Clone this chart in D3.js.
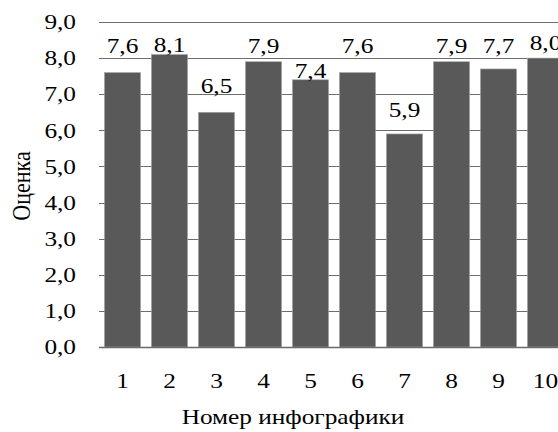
<!DOCTYPE html>
<html><head><meta charset="utf-8">
<script src="https://cdn.jsdelivr.net/npm/d3@7"></script>
<style>
html,body{margin:0;padding:0;background:#fff;}
svg{display:block;}
text{font-family:"Liberation Serif","Times New Roman",serif;fill:#000;}
</style></head>
<body>
<svg id="chart" width="558" height="432"></svg>
<script>
// ---- data ----
const categories = ["1","2","3","4","5","6","7","8","9","10"];
const scores = [7.6, 8.1, 6.5, 7.9, 7.4, 7.6, 5.9, 7.9, 7.7, 8.0];
const yTicks = [0,1,2,3,4,5,6,7,8,9];
const yTitle = "Оценка";
const xTitle = "Номер инфографики";
// label baseline positions, in value units (labels were placed by hand in the original)
const labelAt = [8.14, 8.17, 7.04, 8.14, 7.45, 8.14, 6.37, 8.14, 8.14, 8.23];

// ---- layout ----
const plotL = 99, plotR = 569, plotT = 22, plotB = 347;
const sx = 1.15; // horizontal glyph stretch seen in the original
const fs = 22;

const svg = d3.select("#chart");
const x = d3.scaleBand().domain(categories).range([plotL, plotR]).paddingInner(0.23).paddingOuter(0.115);
const y = d3.scaleLinear().domain([0, 9]).range([plotB, plotT]);
const fmt = v => d3.format(".1f")(v).replace(".", ",");

// gridlines
svg.append("g").selectAll("line").data(yTicks.filter(t => t > 0)).join("line")
  .attr("x1", plotL).attr("x2", 558)
  .attr("y1", d => Math.round(y(d)) + 0.5).attr("y2", d => Math.round(y(d)) + 0.5)
  .attr("stroke", "#6e6e6e").attr("stroke-width", 1.2);

// bars
svg.append("g").selectAll("rect").data(scores).join("rect")
  .attr("x", (d, i) => x(categories[i]))
  .attr("width", x.bandwidth())
  .attr("y", d => y(d))
  .attr("height", d => y(0) - y(d))
  .attr("fill", "#595959")
  .attr("stroke", "#a8a8a8").attr("stroke-width", 0.6);

// baseline axis
svg.append("line").attr("x1", plotL).attr("x2", 558)
  .attr("y1", Math.round(y(0)) + 0.5).attr("y2", Math.round(y(0)) + 0.5)
  .attr("stroke", "#6a6a6a").attr("stroke-width", 1.6);

// y tick labels
svg.append("g").selectAll("text").data(yTicks).join("text")
  .attr("transform", d => `translate(76,${y(d)}) scale(${sx},1)`)
  .attr("text-anchor", "end").attr("dy", "0.33em")
  .style("font-size", fs + "px")
  .text(d => fmt(d));

// x tick labels
svg.append("g").selectAll("text").data(categories).join("text")
  .attr("transform", d => `translate(${x(d) + x.bandwidth() / 2},388) scale(${sx},1)`)
  .attr("text-anchor", "middle")
  .style("font-size", fs + "px")
  .text(d => d);

// value labels
svg.append("g").selectAll("text").data(scores).join("text")
  .attr("transform", (d, i) => `translate(${x(categories[i]) + x.bandwidth() / 2},${y(labelAt[i])}) scale(${sx},1)`)
  .attr("text-anchor", "middle")
  .style("font-size", fs + "px")
  .text(d => fmt(d));

// axis titles
svg.append("text")
  .attr("transform", `translate(30,186) scale(${sx},1) rotate(-90)`)
  .attr("text-anchor", "middle")
  .style("font-size", fs + "px")
  .text(yTitle);

svg.append("text")
  .attr("transform", `translate(293,424) scale(${sx},1)`)
  .attr("text-anchor", "middle")
  .style("font-size", fs + "px")
  .text(xTitle);
</script>
</body></html>
